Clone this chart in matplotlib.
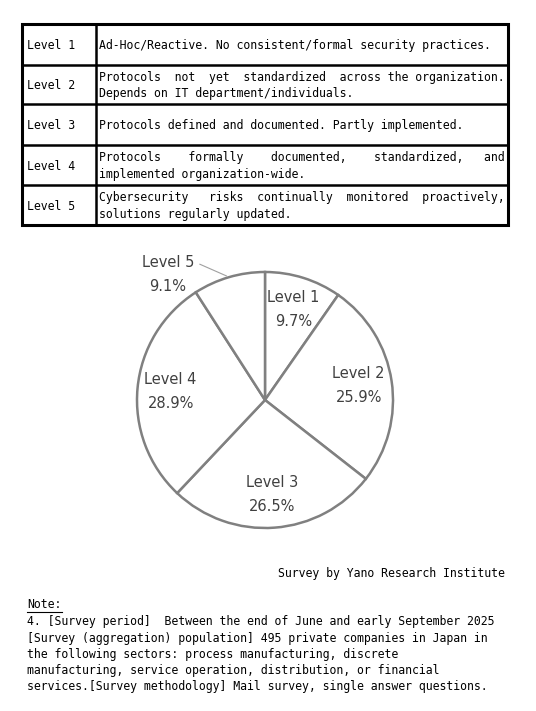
import matplotlib.pyplot as plt
from matplotlib.patches import Rectangle

# Data
levels = ["Level 1", "Level 2", "Level 3", "Level 4", "Level 5"]
shares = [9.7, 25.9, 26.5, 28.9, 9.1]
descriptions = [
    ["Ad-Hoc/Reactive. No consistent/formal security practices."],
    ["Protocols not yet standardized across the organization.",
     "Depends on IT department/individuals."],
    ["Protocols defined and documented. Partly implemented."],
    ["Protocols formally documented, standardized, and",
     "implemented organization-wide."],
    ["Cybersecurity risks continually monitored proactively,",
     "solutions regularly updated."],
]
source = "Survey by Yano Research Institute"
note_lines = [
    "4. [Survey period]  Between the end of June and early September 2025",
    "[Survey (aggregation) population] 495 private companies in Japan in",
    "the following sectors: process manufacturing, discrete",
    "manufacturing, service operation, distribution, or financial",
    "services.[Survey methodology] Mail survey, single answer questions.",
]

W, H = 536, 711
MONO = "DejaVu Sans Mono"
MSIZE = 8.3


def justify(line, width=59):
    # spread extra spaces over the gaps, like a justified paragraph
    words = line.split()
    gaps = len(words) - 1
    extra = width - len(line.replace("  ", " "))
    if gaps == 0 or extra <= 0:
        return line
    out = ""
    for i, w in enumerate(words[:-1]):
        n = 1 + extra // gaps + (1 if i < extra % gaps else 0)
        out += w + " " * n
    return out + words[-1]


fig = plt.figure(figsize=(W / 100, H / 100), dpi=100)
ax = fig.add_axes([0, 0, 1, 1])
ax.set_xlim(0, W)
ax.set_ylim(H, 0)
ax.axis("off")

# Table
row_edges = [24, 65, 104, 145, 185, 225]
ax.add_patch(Rectangle((22, 24), 486, 201, fill=False, lw=2.2, ec="black"))
for y in row_edges[1:-1]:
    ax.plot([22, 508], [y, y], color="black", lw=1.8)
ax.plot([96, 96], [24, 225], color="black", lw=1.8)

for i, (lev, desc) in enumerate(zip(levels, descriptions)):
    top, bot = row_edges[i], row_edges[i + 1]
    mid = (top + bot) / 2 + 1
    ax.text(27, mid, lev, family=MONO, fontsize=MSIZE, va="center")
    n = len(desc)
    for j, line in enumerate(desc):
        txt = justify(line) if (n > 1 and j < n - 1) else line
        y = mid + (j - (n - 1) / 2) * 16.5
        ax.text(99, y, txt, family=MONO, fontsize=MSIZE, va="center")

# Pie
cx, cy, r = 265, 400, 128
pax = fig.add_axes([(cx - r) / W, (H - cy - r) / H, 2 * r / W, 2 * r / H])
labels = [f"{l}\n{v}%" for l, v in zip(levels, shares)]
wedges, texts = pax.pie(
    shares, labels=labels, startangle=90, counterclock=False,
    labeldistance=0.74, colors=["white"] * 5,
    wedgeprops=dict(edgecolor="#808080", linewidth=1.8),
    textprops=dict(color="#404040", fontsize=10.5, ha="center",
                   va="center", linespacing=1.75),
)
for w in wedges:
    w.set_clip_on(False)
pax.set_xlim(-1, 1)
pax.set_ylim(-1, 1)
pax.set_aspect("equal")

# Level 5 label outside with a leader line
texts[4].set_visible(False)
pax.text(-0.76, 0.98, labels[4], color="#404040", fontsize=10.5,
         ha="center", va="center", linespacing=1.75)
pax.annotate("", xy=(-0.28, 0.96), xytext=(-0.53, 1.07),
             arrowprops=dict(arrowstyle="-", color="#a0a0a0", lw=0.8),
             annotation_clip=False)

# Source and notes
ax.text(505, 574, source, family=MONO, fontsize=MSIZE, ha="right",
        va="center")
ax.text(27, 605, "Note:", family=MONO, fontsize=MSIZE, va="center")
ax.plot([27, 62], [612, 612], color="black", lw=0.8)
for k, line in enumerate(note_lines):
    ax.text(27, 622 + k * 16.2, line, family=MONO, fontsize=MSIZE,
            va="center")

fig.savefig("out.png", dpi=100)
